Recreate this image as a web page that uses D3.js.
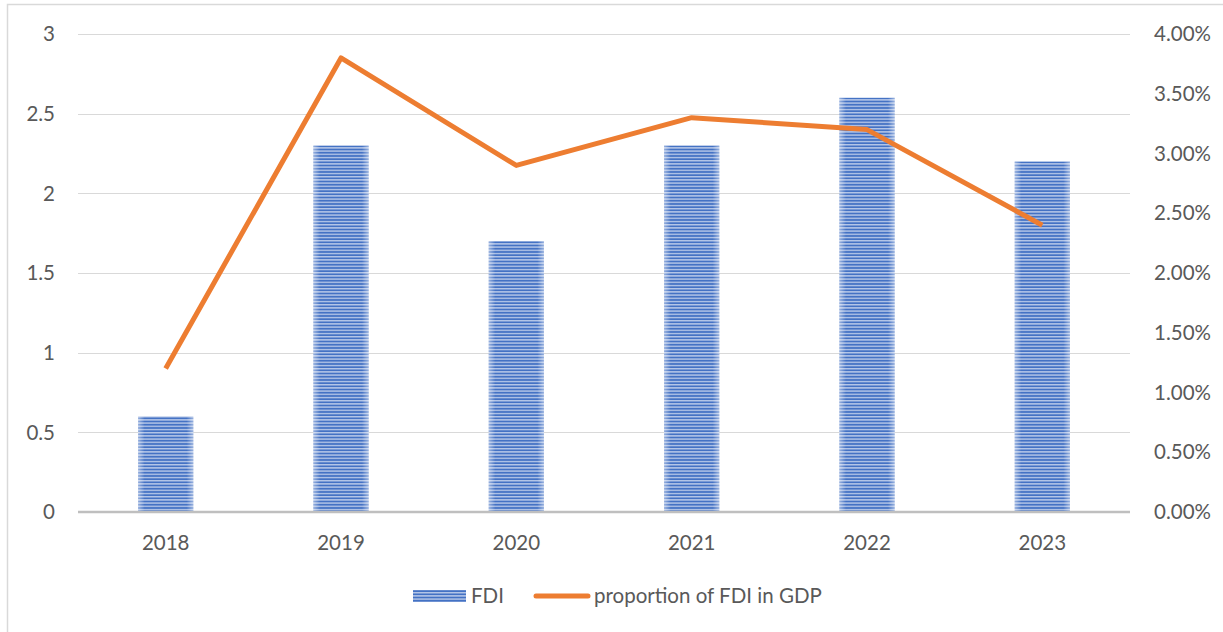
<!DOCTYPE html>
<html>
<head>
<meta charset="utf-8">
<script src="https://cdn.jsdelivr.net/npm/d3@7"></script>
<style>
  html, body { margin: 0; padding: 0; background: #fff; }
  #chart svg { display: block; }
  text { font-family: Lato, "Open Sans", sans-serif; fill: #595959; }
</style>
</head>
<body>
<div id="chart"></div>
<script>
// chart values
const years = ["2018", "2019", "2020", "2021", "2022", "2023"];
const fdi = [0.6, 2.3, 1.7, 2.3, 2.6, 2.2];
const share = [0.012, 0.038, 0.029, 0.033, 0.032, 0.024];
const leftTicks = [0, 0.5, 1, 1.5, 2, 2.5, 3];
const rightTicks = [0, 0.005, 0.01, 0.015, 0.02, 0.025, 0.03, 0.035, 0.04];

const width = 1223, height = 632;
const margin = { top: 34, right: 93, bottom: 120, left: 78 };
const fs = 20.5;

const svg = d3.select("#chart")
    .append("svg")
    .attr("width", width)
    .attr("height", height);

// striped fill for bars
const defs = svg.append("defs");
const pat = defs.append("pattern")
    .attr("id", "stripes")
    .attr("patternUnits", "userSpaceOnUse")
    .attr("width", 8)
    .attr("height", 3.2);
pat.append("rect").attr("width", 8).attr("height", 3.2).attr("fill", "#B7C8E8");
pat.append("rect").attr("y", 1.4).attr("width", 8).attr("height", 1.8).attr("fill", "#4472C4");

const edge = defs.append("linearGradient").attr("id", "edge");
edge.append("stop").attr("offset", "0%").attr("stop-color", "#fff").attr("stop-opacity", 0.45);
edge.append("stop").attr("offset", "12%").attr("stop-color", "#fff").attr("stop-opacity", 0);
edge.append("stop").attr("offset", "88%").attr("stop-color", "#fff").attr("stop-opacity", 0);
edge.append("stop").attr("offset", "100%").attr("stop-color", "#fff").attr("stop-opacity", 0.45);

// outer frame
svg.append("rect")
    .attr("x", 7.5).attr("y", 4.5)
    .attr("width", width + 10).attr("height", height + 10)
    .attr("fill", "none")
    .attr("stroke", "#D9D9D9")
    .attr("stroke-width", 1.5);

const x = d3.scaleBand()
    .domain(years)
    .range([margin.left, width - margin.right])
    .paddingInner(0.685)
    .paddingOuter(0.3425);

const y = d3.scaleLinear()
    .domain([0, 3])
    .range([height - margin.bottom, margin.top]);

const y2 = d3.scaleLinear()
    .domain([0, 0.04])
    .range([height - margin.bottom, margin.top]);

// gridlines
svg.append("g")
    .selectAll("line")
    .data(leftTicks.slice(1))
    .join("line")
    .attr("x1", margin.left)
    .attr("x2", width - margin.right)
    .attr("y1", d => Math.round(y(d)) + 0.5)
    .attr("y2", d => Math.round(y(d)) + 0.5)
    .attr("stroke", "#D9D9D9")
    .attr("stroke-width", 1);

// left axis labels
svg.append("g")
    .selectAll("text")
    .data(leftTicks)
    .join("text")
    .attr("x", 55)
    .attr("y", d => y(d))
    .attr("dy", "0.35em")
    .attr("text-anchor", "end")
    .attr("font-size", fs)
    .text(d => d);

// right axis labels
svg.append("g")
    .selectAll("text")
    .data(rightTicks)
    .join("text")
    .attr("x", 1211)
    .attr("y", d => y2(d))
    .attr("dy", "0.35em")
    .attr("text-anchor", "end")
    .attr("font-size", fs)
    .text(d3.format(".2%"));

// bars
const bars = svg.append("g");
bars.selectAll("rect.bar")
    .data(fdi)
    .join("rect")
    .attr("class", "bar")
    .attr("x", (d, i) => x(years[i]))
    .attr("y", d => y(d))
    .attr("width", x.bandwidth())
    .attr("height", d => y(0) - y(d))
    .attr("fill", "url(#stripes)");
bars.selectAll("rect.edge")
    .data(fdi)
    .join("rect")
    .attr("class", "edge")
    .attr("x", (d, i) => x(years[i]))
    .attr("y", d => y(d))
    .attr("width", x.bandwidth())
    .attr("height", d => y(0) - y(d))
    .attr("fill", "url(#edge)");

// category axis line
svg.append("line")
    .attr("x1", margin.left)
    .attr("x2", width - margin.right)
    .attr("y1", y(0))
    .attr("y2", y(0))
    .attr("stroke", "#BFBFBF")
    .attr("stroke-width", 2.5);

// year labels
svg.append("g")
    .selectAll("text")
    .data(years)
    .join("text")
    .attr("x", d => x(d) + x.bandwidth() / 2)
    .attr("y", y(0) + 38)
    .attr("text-anchor", "middle")
    .attr("font-size", fs)
    .text(d => d);

// share line
const line = d3.line()
    .x((d, i) => x(years[i]) + x.bandwidth() / 2)
    .y(d => y2(d));

svg.append("path")
    .datum(share)
    .attr("d", line)
    .attr("fill", "none")
    .attr("stroke", "#ED7D31")
    .attr("stroke-width", 5)
    .attr("stroke-linejoin", "round");

// legend
const legend = svg.append("g");
legend.append("rect")
    .attr("x", 413).attr("y", 590)
    .attr("width", 53).attr("height", 12)
    .attr("fill", "url(#stripes)");
legend.append("text")
    .attr("x", 471).attr("y", 596)
    .attr("dy", "0.35em")
    .attr("font-size", fs)
    .text("FDI");
legend.append("line")
    .attr("x1", 536).attr("x2", 588)
    .attr("y1", 596).attr("y2", 596)
    .attr("stroke", "#ED7D31")
    .attr("stroke-width", 5)
    .attr("stroke-linecap", "round");
legend.append("text")
    .attr("x", 594).attr("y", 596)
    .attr("dy", "0.35em")
    .attr("font-size", fs)
    .text("proportion of FDI in GDP");
</script>
</body>
</html>
